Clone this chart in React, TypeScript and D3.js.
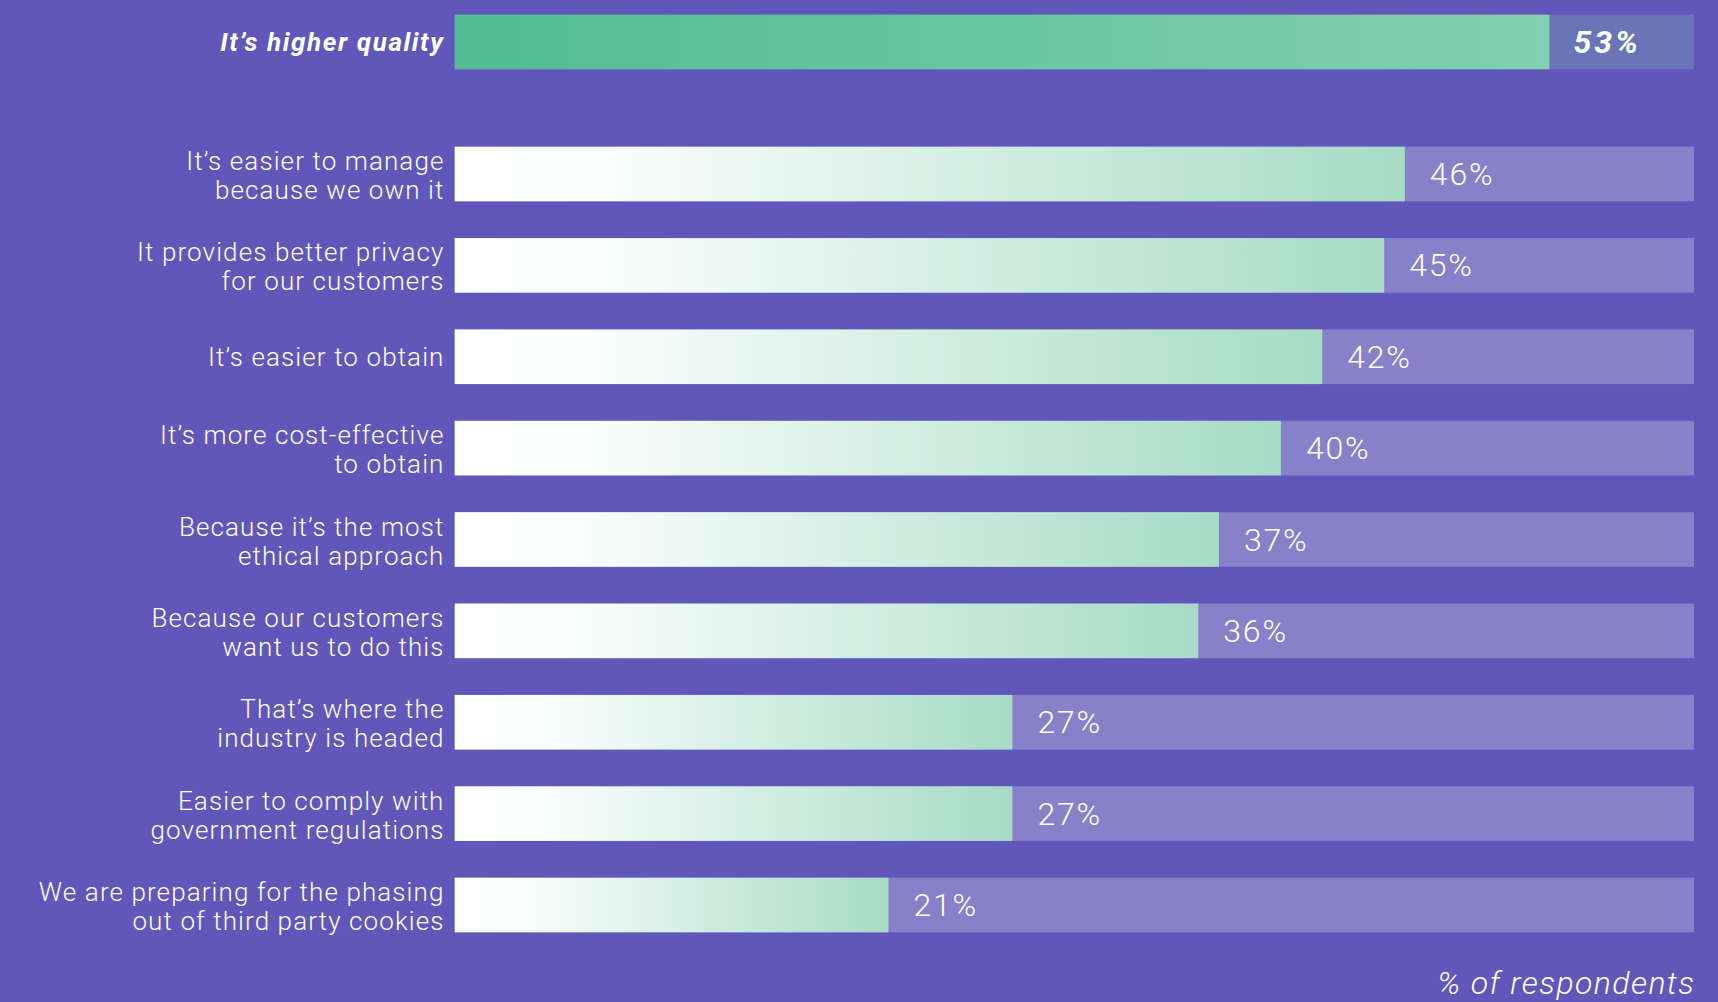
import React from "react";
import * as d3 from "d3";

const categories: string[][] = [
  ["It’s higher quality"],
  ["It’s easier to manage", "because we own it"],
  ["It provides better privacy", "for our customers"],
  ["It’s easier to obtain"],
  ["It’s more cost-effective", "to obtain"],
  ["Because it’s the most", "ethical approach"],
  ["Because our customers", "want us to do this"],
  ["That’s where the", "industry is headed"],
  ["Easier to comply with", "government regulations"],
  ["We are preparing for the phasing", "out of third party cookies"],
];
const values: number[] = [53, 46, 45, 42, 40, 37, 36, 27, 27, 21];
const slots: number[] = [-1.445, 0, 1, 2, 3, 4, 5, 6, 7, 8];
const axisNote = "% of respondents";

const W = 1718;
const H = 1002;
const BG = "#6157bb";
const TRACK = "#8880c8";
const TOP_TRACK = "#6a75b8";
const FONT = "Roboto, 'Open Sans', sans-serif";

export default function App() {
  const x = d3.scaleLinear().domain([0, 60]).range([454.7, 1694]);
  const y = d3.scaleLinear().domain([0, 8]).range([146.7, 146.7 + 8 * 91.375]);
  const bh = 54.6;
  const labelX = 444.5;

  return (
    <div style={{ position: "fixed", left: 0, top: 0 }}>
      <svg width={W} height={H} style={{ display: "block" }}>
        <defs>
          <linearGradient id="gTop" x1="0" x2="1" y1="0" y2="0">
            <stop offset="0" stopColor="#52bc94" />
            <stop offset="1" stopColor="#82d0b1" />
          </linearGradient>
          <linearGradient id="gBar" x1="0" x2="1" y1="0" y2="0">
            <stop offset="0" stopColor="#ffffff" />
            <stop offset="0.15" stopColor="#fbfefd" />
            <stop offset="1" stopColor="#a6dbc6" />
          </linearGradient>
        </defs>
        <rect x={0} y={0} width={W} height={H} fill={BG} />
        {values.map((v, i) => {
          const top = y(slots[i]);
          const cy = top + bh / 2;
          const isTop = i === 0;
          const lines = categories[i];
          return (
            <g key={i}>
              <rect
                x={x(0)}
                y={top}
                width={x(60) - x(0)}
                height={bh}
                fill={isTop ? TOP_TRACK : TRACK}
              />
              <rect
                x={x(0)}
                y={top}
                width={x(v) - x(0)}
                height={bh}
                fill={isTop ? "url(#gTop)" : "url(#gBar)"}
              />
              {lines.map((ln, j) => {
                const baseline =
                  lines.length === 1 ? cy + 9.5 : cy - 4 + j * 29;
                return (
                  <text
                    key={j}
                    x={labelX}
                    y={baseline}
                    textAnchor="end"
                    fill="#ffffff"
                    fontFamily={FONT}
                    fontSize={26}
                    fontWeight={isTop ? 700 : 300}
                    fontStyle={isTop ? "italic" : "normal"}
                    letterSpacing={isTop ? 1.6 : 1.1}
                  >
                    {ln}
                  </text>
                );
              })}
              <text
                x={isTop ? x(v) + 24 : x(v) + 25}
                y={cy + 11}
                fill="#ffffff"
                fontFamily={FONT}
                fontSize={32}
                fontWeight={isTop ? 700 : 300}
                fontStyle={isTop ? "italic" : "normal"}
                letterSpacing={isTop ? 3 : 1.8}
              >
                {v}%
              </text>
            </g>
          );
        })}
        <text
          x={x(60) + 1.4}
          y={994}
          textAnchor="end"
          fill="#ffffff"
          fontFamily={FONT}
          fontSize={32}
          fontWeight={300}
          fontStyle="italic"
          letterSpacing={1.4}
        >
          {axisNote}
        </text>
      </svg>
    </div>
  );
}
